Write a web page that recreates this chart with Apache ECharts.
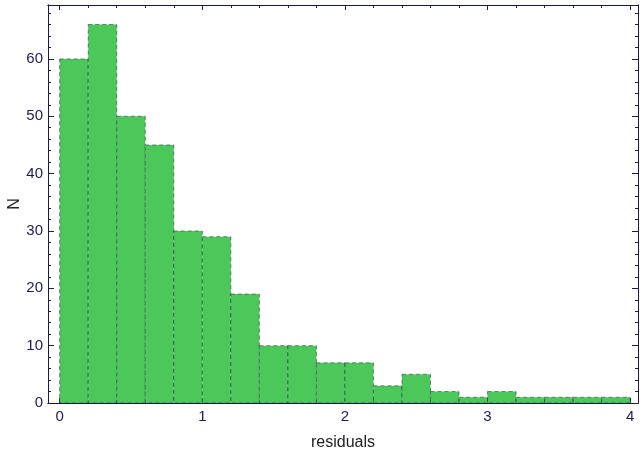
<!DOCTYPE html>
<html>
<head>
<meta charset="utf-8">
<script src="https://cdn.jsdelivr.net/npm/echarts@6/dist/echarts.min.js"></script>
<style>
  html, body { margin: 0; padding: 0; background: #fff; }
  #chart { width: 641px; height: 454px; }
</style>
</head>
<body>
<div id="chart"></div>
<script>
// Histogram of residuals: bin edges (width 0.2) and counts per bin
const binStarts = [0, 0.2, 0.4, 0.6, 0.8, 1.0, 1.2, 1.4, 1.6, 1.8, 2.0, 2.2, 2.4, 2.6, 2.8, 3.0, 3.2, 3.4, 3.6, 3.8];
const binWidth = 0.2;
const counts = [60, 66, 50, 45, 30, 29, 19, 10, 10, 7, 7, 3, 5, 2, 1, 2, 1, 1, 1, 1];

const xMajorTicks = [0, 1, 2, 3, 4];
const xMinorTicks = [0.2, 0.4, 0.6, 0.8, 1.2, 1.4, 1.6, 1.8, 2.2, 2.4, 2.6, 2.8, 3.2, 3.4, 3.6, 3.8];
const yMajorTicks = [0, 10, 20, 30, 40, 50, 60];
const yMinorTicks = [2, 4, 6, 8, 12, 14, 16, 18, 22, 24, 26, 28, 32, 34, 36, 38, 42, 44, 46, 48, 52, 54, 56, 58, 62, 64, 66, 68];

const axisColor = '#1a1a4e';
const textColor = '#1c1c52';
const barColor = '#4cc85a';

const xRange = { min: -0.082, max: 4.055 };
const yRange = { min: 0, max: 69.4 };

function xAxisDef(position, ticks, length, showLabel) {
  return {
    type: 'value', position: position, ...xRange,
    splitLine: { show: false },
    axisLine: { show: true, onZero: false, lineStyle: { color: axisColor, width: 1 } },
    axisTick: { show: true, inside: true, length: length, customValues: ticks, lineStyle: { color: axisColor, width: 1 } },
    axisLabel: showLabel ? {
      show: true, customValues: ticks, color: textColor, fontSize: 15,
      fontFamily: 'Liberation Sans, Arial, sans-serif', margin: 6
    } : { show: false },
    name: (showLabel && position === 'bottom') ? 'residuals' : '',
    nameLocation: 'middle', nameGap: 32, nameMoveOverlap: false,
    nameTextStyle: { color: '#222', fontSize: 16, fontFamily: 'Liberation Sans, Arial, sans-serif' }
  };
}

function yAxisDef(position, ticks, length, showLabel) {
  return {
    type: 'value', position: position, ...yRange,
    splitLine: { show: false },
    axisLine: { show: true, onZero: false, lineStyle: { color: axisColor, width: 1 } },
    axisTick: { show: true, inside: true, length: length, customValues: ticks, lineStyle: { color: axisColor, width: 1 } },
    axisLabel: showLabel ? {
      show: true, customValues: ticks, color: textColor, fontSize: 15,
      fontFamily: 'Liberation Sans, Arial, sans-serif', margin: 5
    } : { show: false },
    name: (showLabel && position === 'left') ? 'N' : '',
    nameLocation: 'middle', nameGap: 25, nameRotate: 90, nameMoveOverlap: false,
    nameTextStyle: { color: '#222', fontSize: 16, fontFamily: 'Liberation Sans, Arial, sans-serif' }
  };
}

const histData = binStarts.map((s, i) => [s, s + binWidth, counts[i]]);

const chart = echarts.init(document.getElementById('chart'), null, { renderer: 'canvas' });
chart.setOption({
  animation: false,
  backgroundColor: '#fff',
  grid: { left: 48, right: 3, top: 5, bottom: 51, show: false, containLabel: false, outerBoundsMode: 'none' },
  xAxis: [
    xAxisDef('bottom', xMajorTicks, 5, true),
    xAxisDef('bottom', xMinorTicks, 3, false),
    xAxisDef('top', xMajorTicks, 5, false),
    xAxisDef('top', xMinorTicks, 3, false)
  ],
  yAxis: [
    yAxisDef('left', yMajorTicks, 6, true),
    yAxisDef('left', yMinorTicks, 3, false),
    yAxisDef('right', yMajorTicks, 6, false),
    yAxisDef('right', yMinorTicks, 3, false)
  ],
  series: [{
    type: 'custom',
    xAxisIndex: 0,
    yAxisIndex: 0,
    data: histData,
    encode: { x: [0, 1], y: 2 },
    renderItem: function (params, api) {
      const p0 = api.coord([api.value(0), api.value(2)]);
      const p1 = api.coord([api.value(1), 0]);
      return {
        type: 'rect',
        shape: { x: p0[0], y: p0[1], width: p1[0] - p0[0], height: p1[1] - p0[1] },
        style: {
          fill: barColor,
          stroke: 'rgba(30,30,60,0.5)',
          lineWidth: 1,
          lineDash: [4, 3]
        }
      };
    }
  }]
});
</script>
</body>
</html>
